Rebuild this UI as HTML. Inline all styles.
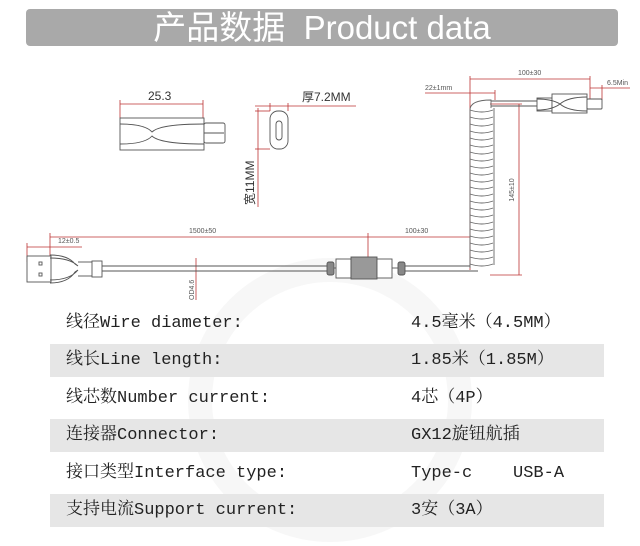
<!DOCTYPE html>
<html><head><meta charset="utf-8"><style>
html,body{margin:0;width:640px;height:546px;background:#fff;overflow:hidden;position:relative;font-family:"Liberation Sans","Noto Sans CJK SC",sans-serif}
.hdr{position:absolute;left:26px;top:9px;width:592px;height:37px;background:#a9a9a9;border-radius:4px;color:#fff;font-size:33px;line-height:37px;text-align:center}
.row{position:absolute;left:50px;width:554px;height:33px;font-family:"Liberation Mono","Noto Serif CJK SC",monospace;font-size:17px;color:#222;line-height:33px}
.g{background:#e6e6e6}
.row span{position:absolute;white-space:nowrap}
.l{left:16px}.v{left:361px}
svg{position:absolute;left:0;top:0;overflow:hidden}
</style></head><body>
<div class="hdr">产品数据&nbsp;&nbsp;Product data</div>
<svg width="640" height="546" viewBox="0 0 640 546" font-family="Liberation Sans" fill="none">
<circle cx="330" cy="400" r="130" stroke="#f7f7f7" stroke-width="24"/>
<g stroke="#b33" stroke-width="0.8">
<line x1="120" y1="104" x2="203" y2="104"/><line x1="120" y1="100" x2="120" y2="118"/><line x1="203" y1="100" x2="203" y2="118"/>
<line x1="255" y1="106" x2="356" y2="106"/><line x1="270" y1="103" x2="270" y2="111"/><line x1="288" y1="103" x2="288" y2="111"/>
<line x1="258" y1="108" x2="258" y2="207"/><line x1="255" y1="111" x2="270" y2="111"/><line x1="255" y1="149" x2="270" y2="149"/>
<line x1="470" y1="79" x2="590" y2="79"/><line x1="470" y1="76" x2="470" y2="270"/><line x1="590" y1="76" x2="590" y2="100"/>
<line x1="425" y1="93" x2="495" y2="93"/><line x1="495" y1="90" x2="495" y2="100"/>
<line x1="590" y1="88" x2="630" y2="88"/><line x1="602" y1="85" x2="602" y2="100"/>
<line x1="519" y1="104" x2="519" y2="275"/><line x1="490" y1="104" x2="522" y2="104"/><line x1="490" y1="275" x2="522" y2="275"/>
<line x1="50" y1="237" x2="470" y2="237"/><line x1="368" y1="233" x2="368" y2="262"/><line x1="50" y1="233" x2="50" y2="262"/>
<line x1="27" y1="247" x2="82" y2="247"/><line x1="27" y1="243" x2="27" y2="262"/>
<line x1="196" y1="258" x2="196" y2="300"/>
</g>
<g fill="#555" font-size="7">
<text x="189" y="233">1500±50</text><text x="405" y="233">100±30</text><text x="58" y="243">12±0.5</text>
<text x="518" y="75">100±30</text><text x="425" y="90">22±1mm</text><text x="607" y="85">6.5Min</text>
<text transform="translate(514,190) rotate(-90)" text-anchor="middle">145±10</text>
<text transform="translate(194,300) rotate(-90)">OD4.6</text>
</g>
<g fill="#333" font-size="12">
<text x="148" y="100">25.3</text><text x="302" y="101">厚7.2MM</text>
<text transform="translate(254,205) rotate(-90)">宽11MM</text>
</g>
<g stroke="#555" stroke-width="0.9">
<rect x="120" y="118" width="84" height="32" fill="#fff"/>
<path d="M120 124 Q145 124 152 132 Q160 124 204 124 M120 144 Q145 144 152 136 Q160 144 204 144"/>
<rect x="204" y="123" width="21" height="20" rx="2" fill="#fff"/><line x1="204" y1="133" x2="224" y2="133"/>
<rect x="270" y="111" width="18" height="38" rx="8" fill="#fff"/><rect x="276" y="121" width="6" height="19" rx="3"/>
<rect x="537" y="98" width="15" height="13" fill="#fff"/>
<rect x="552" y="94" width="35" height="19" fill="#fff"/>
<path d="M537 99 Q552 99 560 104 Q568 97 587 97 M537 110 Q552 110 560 104 Q568 111 587 111"/>
<rect x="587" y="99" width="15" height="10" rx="1" fill="#fff"/>
<line x1="491" y1="101" x2="537" y2="101"/><line x1="491" y1="106" x2="537" y2="106"/>
<rect x="27" y="256" width="24" height="26" fill="#fff"/><rect x="39" y="262" width="3" height="3"/><rect x="39" y="273" width="3" height="3"/>
<path d="M50 255 Q68 255 75 264 L78 266 M50 283 Q68 283 75 272 L78 270 M50 258 Q70 258 78 266 M50 280 Q70 280 78 270" />
<rect x="92" y="261" width="10" height="16" fill="#fff"/>
<line x1="78" y1="262" x2="92" y2="262"/><line x1="78" y1="276" x2="92" y2="276"/>
<line x1="102" y1="266" x2="328" y2="266"/><line x1="102" y1="271" x2="328" y2="271"/>
<line x1="405" y1="266" x2="470" y2="266"/><line x1="405" y1="271" x2="478" y2="271"/>
<rect x="327" y="262" width="7" height="13" rx="2" fill="#888"/>
<rect x="336" y="259" width="15" height="19" fill="#fff"/>
<rect x="351" y="257" width="26" height="22" fill="#999"/>
<rect x="377" y="259" width="15" height="19" fill="#fff"/>
<rect x="398" y="262" width="7" height="13" rx="2" fill="#888"/>
<line x1="334" y1="268" x2="336" y2="268"/><line x1="392" y1="268" x2="398" y2="268"/>
</g>
<g stroke="#666" stroke-width="0.9">
<path d="M470 110 Q470 100 491 100 L491 108"/>
<path d="M470 110 Q482 114 493 110 M470 117 Q482 121 493 117 M470 124 Q482 128 493 124 M470 131 Q482 135 493 131 M470 138 Q482 142 493 138 M470 145 Q482 149 493 145 M470 152 Q482 156 493 152 M470 159 Q482 163 493 159 M470 166 Q482 170 493 166 M470 173 Q482 177 493 173 M470 180 Q482 184 493 180 M470 187 Q482 191 493 187 M470 194 Q482 198 493 194 M470 201 Q482 205 493 201 M470 208 Q482 212 493 208 M470 215 Q482 219 493 215 M470 222 Q482 226 493 222 M470 229 Q482 233 493 229 M470 236 Q482 240 493 236 M470 243 Q482 247 493 243 M470 250 Q482 254 493 250 M470 257 Q482 261 493 257 M470 264 Q482 268 493 264"/>
<path d="M470 110 L470 268 M494 108 L494 265"/>
</g>
</svg>
<div class="row" style="top:307px"><span class="l">线径Wire diameter:</span><span class="v">4.5毫米（4.5MM）</span></div>
<div class="row g" style="top:344px"><span class="l">线长Line length:</span><span class="v">1.85米（1.85M）</span></div>
<div class="row" style="top:382px"><span class="l">线芯数Number current:</span><span class="v">4芯（4P）</span></div>
<div class="row g" style="top:419px"><span class="l">连接器Connector:</span><span class="v">GX12旋钮航插</span></div>
<div class="row" style="top:457px"><span class="l">接口类型Interface type:</span><span class="v">Type-c&nbsp;&nbsp;&nbsp;&nbsp;USB-A</span></div>
<div class="row g" style="top:494px"><span class="l">支持电流Support current:</span><span class="v">3安（3A）</span></div>
</body></html>
